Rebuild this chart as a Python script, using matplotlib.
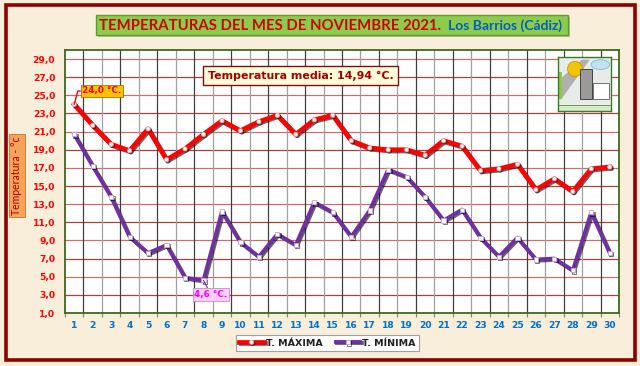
import matplotlib
matplotlib.use("Agg")
import matplotlib.pyplot as plt
import matplotlib.patheffects as pe
from matplotlib.patches import Rectangle, FancyBboxPatch, Circle, Ellipse, Polygon
import numpy as np

days = list(range(1, 31))
t_max = [24.0, 21.7, 19.6, 18.9, 21.3, 17.9, 19.1, 20.7, 22.2, 21.1,
         22.1, 22.8, 20.7, 22.3, 22.8, 20.0, 19.2, 19.0, 19.0, 18.4,
         20.0, 19.4, 16.7, 16.9, 17.4, 14.6, 15.8, 14.4, 16.9, 17.1]
t_min = [20.7, 17.2, 13.8, 9.4, 7.6, 8.5, 4.9, 4.6, 12.2, 8.8,
         7.2, 9.7, 8.5, 13.2, 12.1, 9.4, 12.3, 16.8, 16.0, 13.8,
         11.2, 12.4, 9.3, 7.2, 9.3, 6.9, 7.0, 5.7, 12.1, 7.6]
y_ticks = [1, 3, 5, 7, 9, 11, 13, 15, 17, 19, 21, 23, 25, 27, 29]
title_main = "TEMPERATURAS DEL MES DE NOVIEMBRE 2021."
title_place = "Los Barrios (Cádiz)"
media_text = "Temperatura media: 14,94 °C."
max_label = "24,0 °C."
min_label = "4,6 °C."
legend_labels = ["T. MÁXIMA", "T. MÍNIMA"]
ylabel = "Temperatura - °c"

W, H = 640, 366
fig = plt.figure(figsize=(W / 100, H / 100), dpi=100, facecolor="#F8EEDA")

def fx(px):
    return px / W

def fy(py):
    return 1 - py / H

# outer frame
fig.patches.append(Rectangle((fx(5.5), fy(360)), fx(629), (355) / H, transform=fig.transFigure,
                             fill=False, edgecolor="#8B0000", linewidth=2.6, zorder=0))

# title box
fig.patches.append(FancyBboxPatch((fx(96), fy(35)), fx(472), 20 / H, transform=fig.transFigure,
                                  boxstyle="square,pad=0", facecolor="#8DCB4E", edgecolor="#5E9A2E",
                                  linewidth=1.0, zorder=1,
                                  path_effects=[pe.SimplePatchShadow(offset=(1.5, -1.5), alpha=0.3), pe.Normal()]))
fig.text(fx(99), fy(25.5), title_main, color="#D00000", fontsize=10.7, fontweight="bold",
         family="Lato", ha="left", va="center", zorder=2)
fig.text(fx(448), fy(25.5), title_place, color="#0060B8", fontsize=10.0, fontweight="bold",
         family="Lato", ha="left", va="center", zorder=2)

ax = fig.add_axes([fx(65), fy(313), fx(554), 263 / H])
ax.set_facecolor("white")
ax.set_xlim(0.5, 30.5)
ax.set_ylim(1, 30)

# grid
for i, y in enumerate(y_ticks):
    ax.axhline(y, color="#A8423F" if i % 2 else "#C87070", linewidth=0.9, zorder=1)
for i, x in enumerate(np.arange(1.5, 30.5, 1.0)):
    ax.axvline(x, color="#404040" if i % 2 == 0 else "#A0A0A0", linewidth=0.9, zorder=1)

shadow = [pe.SimpleLineShadow(offset=(0.9, -0.9), shadow_color="black", alpha=0.6), pe.Normal()]
l1, = ax.plot(days, t_max, color="#FF0000", linewidth=3.4, marker="o", markersize=3,
              markerfacecolor="white", markeredgecolor="#F4A0A0", markeredgewidth=0.6,
              zorder=4, path_effects=shadow, label=legend_labels[0])
l2, = ax.plot(days, t_min, color="#7030A0", linewidth=2.8, marker="s", markersize=3,
              markerfacecolor="white", markeredgecolor="#C8A8E0", markeredgewidth=0.6,
              zorder=3, path_effects=shadow, label=legend_labels[1])

for s in ax.spines.values():
    s.set_color("#3A6B1E")
    s.set_linewidth(1.3)

ax.set_yticks(y_ticks)
ax.set_yticklabels([f"{v:.1f}".replace(".", ",") for v in y_ticks])
ax.set_xticks(days)
ax.set_xticklabels([str(d) for d in days])
ax.set_xticks(np.arange(0.5, 31, 1.0), minor=True)
ax.tick_params(axis="y", length=0, pad=7, labelsize=6.6, labelcolor="#FF0000")
ax.tick_params(axis="x", which="major", length=0, pad=6, labelsize=6.6, labelcolor="#0070C0")
ax.tick_params(axis="x", which="minor", length=3, color="#808080", width=0.8)
for lab in ax.get_xticklabels() + ax.get_yticklabels():
    lab.set_fontweight("bold")

# y label box
fig.text(fx(17), fy(175.5), ylabel, rotation=90, ha="center", va="center", fontsize=7.6,
         color="#B00000", family="Lato",
         bbox=dict(boxstyle="square,pad=0.25", facecolor="#F5A25A", edgecolor="#D07020", linewidth=0.6))

# media box
fig.text(fx(300.5), fy(75.5), media_text, ha="center", va="center", fontsize=7.9,
         fontweight="bold", color="#9A0000",
         bbox=dict(boxstyle="square,pad=0.4", facecolor="#FFFCD8", edgecolor="#7A1010", linewidth=1.0))

# max / min annotations
i_max = t_max.index(max(t_max))
ax.annotate(max_label, xy=(days[i_max], t_max[i_max]), xycoords="data",
            xytext=(fx(102), fy(91)), textcoords="figure fraction", ha="center", va="center",
            fontsize=6.4, color="#FF0000", fontweight="bold",
            bbox=dict(boxstyle="square,pad=0.2", facecolor="#FFC000", edgecolor="#9A5A00", linewidth=0.5),
            arrowprops=dict(arrowstyle="-", color="#FF0000", linewidth=1.0,
                            connectionstyle="angle,angleA=0,angleB=75,rad=0", shrinkA=0, shrinkB=0),
            zorder=6)
i_min = t_min.index(min(t_min))
ax.annotate(min_label, xy=(days[i_min], t_min[i_min]), xycoords="data",
            xytext=(fx(211), fy(294.5)), textcoords="figure fraction", ha="center", va="center",
            fontsize=6.4, color="#FF00FF", fontweight="bold",
            bbox=dict(boxstyle="square,pad=0.2", facecolor="#FFCCFF", edgecolor="#C090C0", linewidth=0.6),
            arrowprops=dict(arrowstyle="-", color="#7030A0", linewidth=0.8, shrinkA=0, shrinkB=0),
            zorder=6)

# legend
leg = fig.legend(handles=[l1, l2], labels=legend_labels, loc="center",
                 bbox_to_anchor=(fx(327.5), fy(343)), ncol=2, frameon=True, fontsize=6.8,
                 handlelength=2.6, handletextpad=0.2, columnspacing=1.4, borderpad=0.35,
                 fancybox=False, edgecolor="#A0A0A0", facecolor="white", framealpha=1)
for t in leg.get_texts():
    t.set_fontweight("bold")
    t.set_color("#202020")
leg.get_frame().set_linewidth(0.8)

# logo placeholder drawing
lax = fig.add_axes([fx(558), fy(111), fx(53), 54 / H])
lax.set_xlim(0, 1)
lax.set_ylim(0, 1)
lax.set_xticks([])
lax.set_yticks([])
lax.set_facecolor("#E8ECE8")
for s in lax.spines.values():
    s.set_color("#3A7A2A")
    s.set_linewidth(1.0)
lax.add_patch(Polygon([[0.05, 0.2], [0.05, 0.6], [0.45, 0.95], [0.6, 0.95]], closed=True,
                      facecolor="#B0B0B0", edgecolor="none"))
lax.add_patch(Circle((0.32, 0.78), 0.14, facecolor="#F5C400", edgecolor="#C09000", linewidth=0.5))
lax.add_patch(Ellipse((0.8, 0.86), 0.35, 0.18, facecolor="#BFE3F5", edgecolor="#7AAFD0", linewidth=0.5))
lax.add_patch(Rectangle((0.42, 0.22), 0.22, 0.55, facecolor="#9A9A9A", edgecolor="#303030", linewidth=0.6))
lax.add_patch(Rectangle((0.66, 0.22), 0.3, 0.3, facecolor="white", edgecolor="#404040", linewidth=0.5))
lax.add_patch(Rectangle((0.0, 0.22), 0.08, 0.5, facecolor="#8CC84B", edgecolor="none"))
lax.add_patch(Rectangle((0.0, 0.0), 1.0, 0.12, facecolor="#D8E8C8", edgecolor="#3A7A2A", linewidth=0.5))

fig.savefig("out.png", dpi=100, facecolor=fig.get_facecolor())
